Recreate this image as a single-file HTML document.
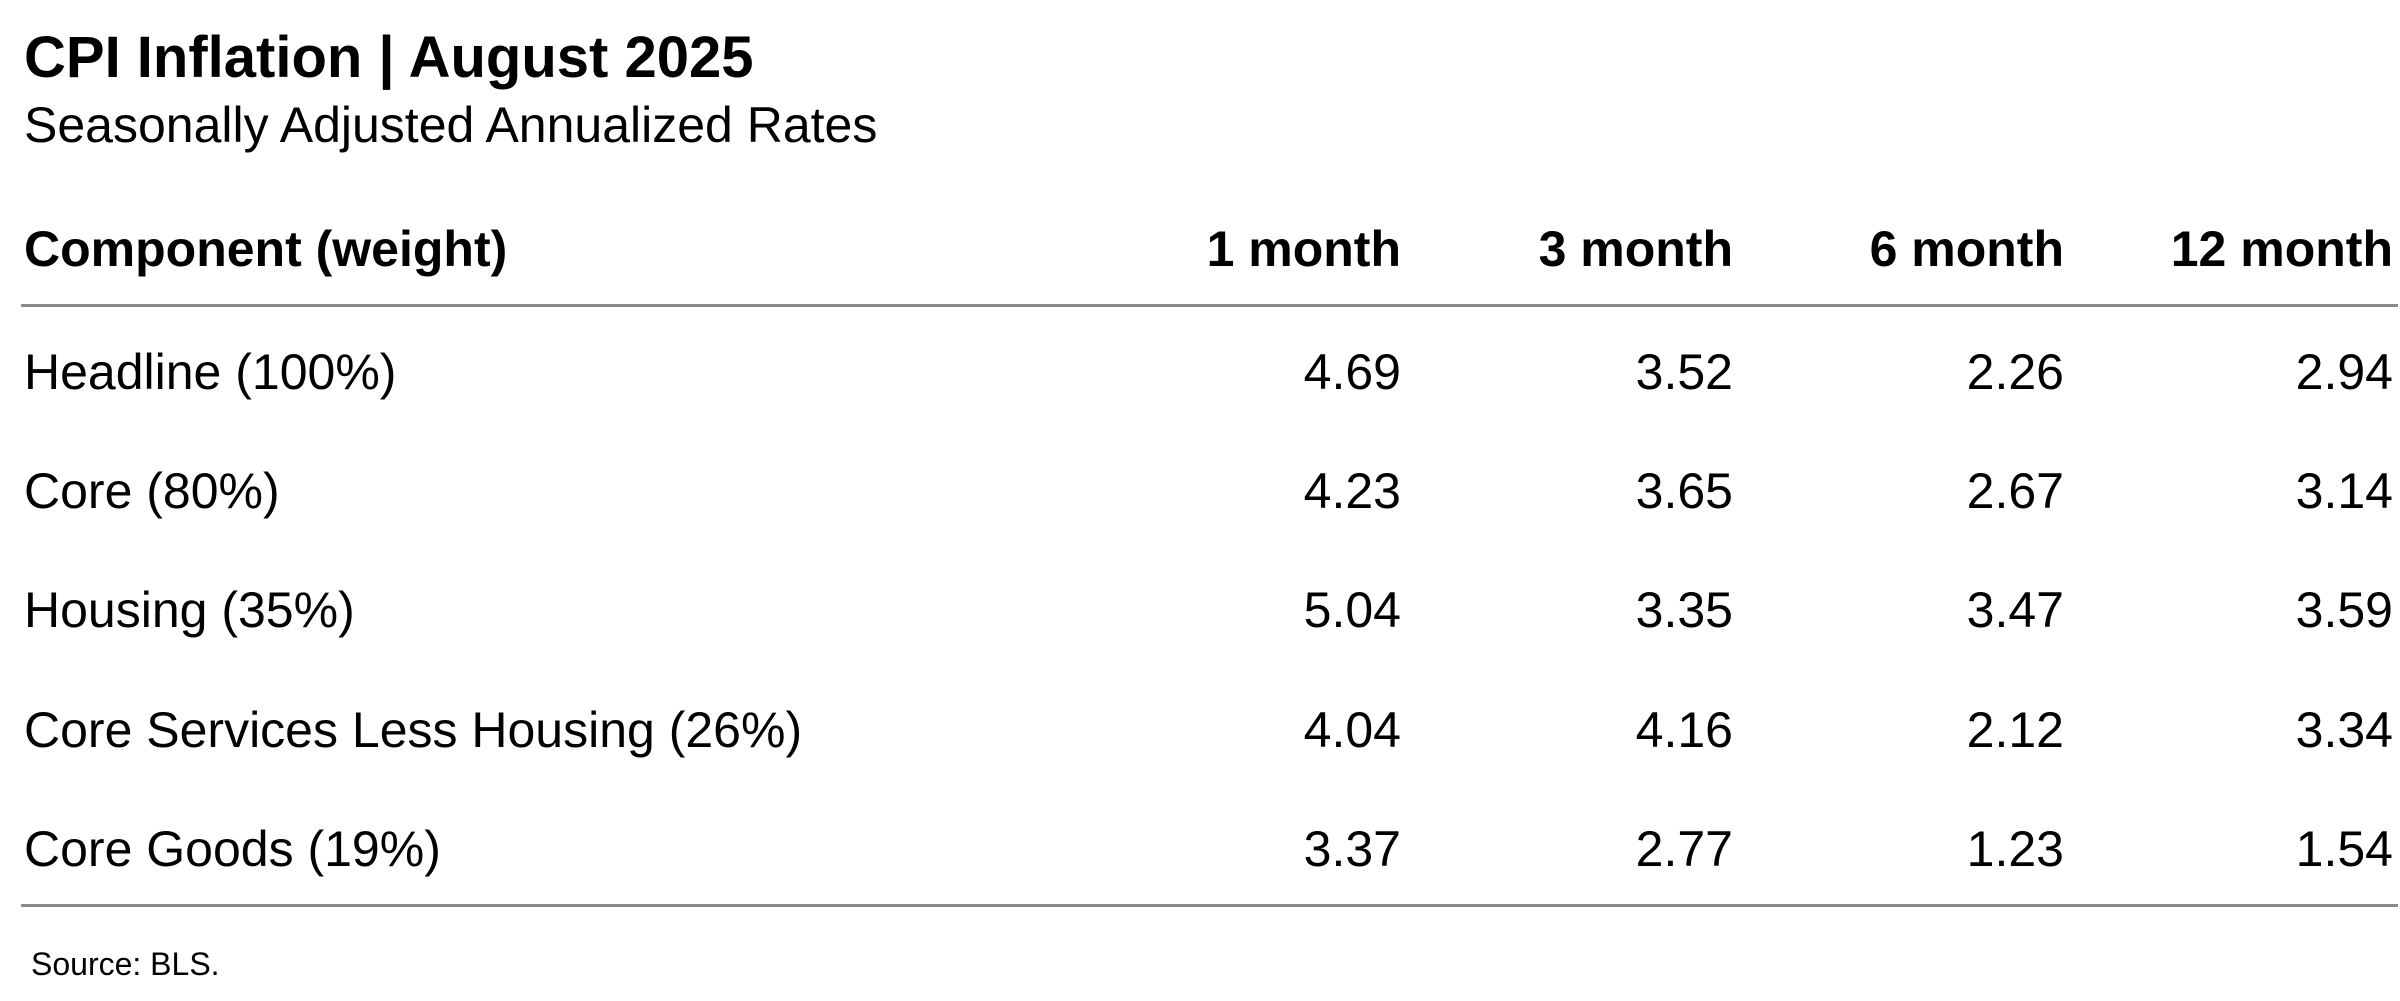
<!DOCTYPE html>
<html><head><meta charset="utf-8">
<style>
html,body{margin:0;padding:0;background:#fff;}
#root{position:relative;width:2400px;height:1001px;overflow:hidden;background:#fff;font-family:"Liberation Sans",Arial,sans-serif;color:#000;}
.t{position:absolute;white-space:nowrap;line-height:1;}
.r{text-align:right;}
.rule{position:absolute;left:21px;width:2377px;height:3px;background:#8a8a8a;}
</style></head>
<body>
<div id="root">
  <div class="t" style="left:24px;top:29px;font-size:58px;font-weight:bold;">CPI Inflation | August 2025</div>
  <div class="t" style="left:24px;top:100px;font-size:50px;">Seasonally Adjusted Annualized Rates</div>
  <div class="rule" style="top:304px;"></div>
  <div class="rule" style="top:904px;"></div>
  <div class="t" style="left:31px;top:948px;font-size:32px;">Source: BLS.</div>
</div>
<script>
const headers = ["Component (weight)", "1 month", "3 month", "6 month", "12 month"];
const components = ["Headline (100%)", "Core (80%)", "Housing (35%)", "Core Services Less Housing (26%)", "Core Goods (19%)"];
const oneMonth = ["4.69", "4.23", "5.04", "4.04", "3.37"];
const threeMonth = ["3.52", "3.65", "3.35", "4.16", "2.77"];
const sixMonth = ["2.26", "2.67", "3.47", "2.12", "1.23"];
const twelveMonth = ["2.94", "3.14", "3.59", "3.34", "1.54"];

const root = document.getElementById('root');
const colRight = [null, 1401, 1733, 2064, 2393];
const headerTop = 224;
const rowTop0 = 347;
const rowStep = 119.2;
const fs = 50;

function place(text, col, top, bold, name) {
  const d = document.createElement('div');
  d.className = 't' + (col > 0 ? ' r' : '');
  d.textContent = text;
  d.style.fontSize = fs + 'px';
  d.style.top = top + 'px';
  if (bold) d.style.fontWeight = 'bold';
  if (col === 0) { d.style.left = '24px'; }
  else { d.style.left = (colRight[col] - 400) + 'px'; d.style.width = '400px'; }
  
  
  root.appendChild(d);
}

headers.forEach((h, i) => {
  place(h, i, headerTop, true, 'column-header-' + i);
});
const cols = [components, oneMonth, threeMonth, sixMonth, twelveMonth];
components.forEach((c, r) => {
  const top = rowTop0 + r * rowStep;
  cols.forEach((arr, ci) => {
    place(arr[r], ci, top, false, ci === 0 ? 'row-label-' + r : 'cell-r' + r + '-c' + ci);
  });
});
</script>
</body></html>
